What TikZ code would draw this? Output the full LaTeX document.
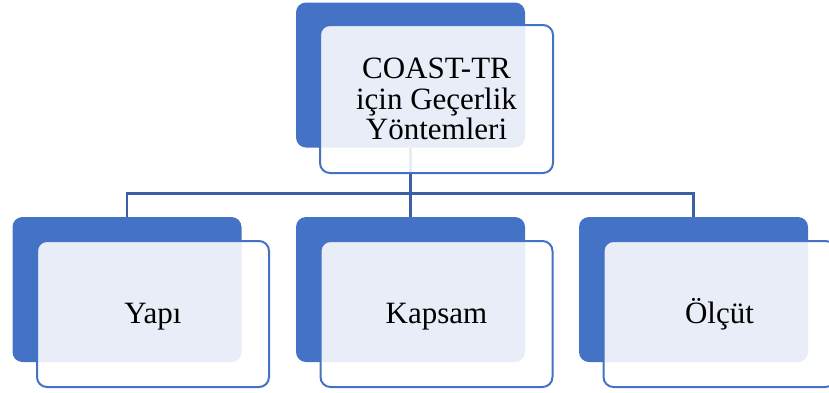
\documentclass[tikz,border=0pt]{standalone}
\usepackage{fontspec}
\setmainfont{Liberation Serif}
\usetikzlibrary{backgrounds}
\definecolor{accent}{HTML}{4472C4}
\definecolor{linkblue}{HTML}{3B5EA6}
\begin{document}
\begin{tikzpicture}[x=1pt,y=-1pt,
  backcard/.style={draw=none,fill=accent,rounded corners=10pt,
    minimum width=229pt,minimum height=145pt,inner sep=0pt},
  frontcard/.style={draw=accent,line width=2pt,fill=white,fill opacity=0.88,
    draw opacity=1,text opacity=1,rounded corners=10pt,minimum width=232pt,
    minimum height=146pt,inner sep=0pt,align=center,
    font=\fontsize{31}{30.7}\selectfont},
  leaflabel/.style={text height=18pt,text depth=0pt},
  link/.style={draw=linkblue,line width=2.5pt}]
\useasboundingbox (0,0) rectangle (829,392);
% solid back cards
\node[backcard] (root-b) at (410.5,75) {};
\node[backcard] (c1-b) at (127,289.5) {};
\node[backcard] (c2-b) at (410.5,289.5) {};
\node[backcard] (c3-b) at (693.5,289.5) {};
% translucent front cards with the labels
\node[frontcard,minimum width=233pt,minimum height=148pt] (root) at (436.5,99)
  {COAST-TR\\için Geçerlik\\Yöntemleri};
\node[frontcard,leaflabel] (c1) at (153,314) {Yapı};
\node[frontcard,leaflabel] (c2) at (436.5,314) {Kapsam};
\node[frontcard,leaflabel] (c3) at (719.5,314) {Ölçüt};
% tree connectors behind everything
\coordinate (bus) at (0,193.5);
\begin{scope}[on background layer]
\draw[link] (root-b.south) -- (root-b.south |- bus);
\draw[link] (c1-b.north) -- (c1-b.north |- bus) -- (c3-b.north |- bus) -- (c3-b.north);
\draw[link] (c2-b.north) -- (c2-b.north |- bus);
\end{scope}
\end{tikzpicture}
\end{document}
